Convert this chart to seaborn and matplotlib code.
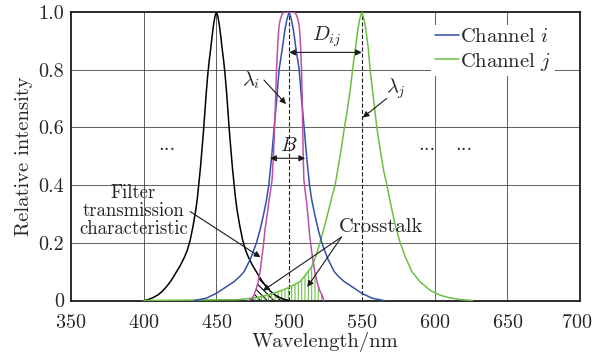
import numpy as np
import matplotlib
matplotlib.use("Agg")
import matplotlib.pyplot as plt
import matplotlib.transforms as mtransforms
import seaborn as sns

# ---------------- data ----------------
black_wl = [400, 403, 406, 410, 413, 416, 419, 422, 425, 428, 430, 432, 434, 435, 436, 437, 438,
            439, 440, 441, 442, 443, 444, 445, 446, 447, 448, 449, 450,
            451, 452, 453, 454, 455, 456, 457, 458, 459, 460, 461, 462, 463, 464, 465, 466,
            468, 470, 472, 475, 478, 481, 484, 487, 490, 494, 497, 500]
black_val = [0, 0.003, 0.009, 0.02, 0.033, 0.05, 0.07, 0.095, 0.12, 0.15, 0.175, 0.21, 0.26, 0.29,
             0.32, 0.36, 0.41, 0.46, 0.52, 0.58, 0.65, 0.72, 0.78, 0.83, 0.87, 0.915, 0.955, 0.985, 1.0,
             0.985, 0.955, 0.915, 0.87, 0.83, 0.78, 0.72, 0.65, 0.58, 0.52, 0.46, 0.41, 0.36, 0.32,
             0.29, 0.26, 0.21, 0.175, 0.15, 0.12, 0.095, 0.07, 0.05, 0.033, 0.02, 0.009, 0.003, 0]

blue_wl = [435, 443, 450, 456, 462, 466, 469, 473, 475, 477.5, 480, 482.5, 484.5, 486, 488, 489.7,
           491.5, 493.1, 494, 495.5, 497, 498.5, 500,
           501.5, 503, 504.5, 506, 506.9, 508.5, 510.3, 512, 514, 515.5, 517.5, 520, 522.5, 525,
           527, 531, 534, 538, 544, 550, 557, 565]
blue_val = [0, 0.008, 0.025, 0.045, 0.065, 0.083, 0.1, 0.14, 0.165, 0.2, 0.245, 0.3, 0.35, 0.4,
            0.5, 0.6, 0.7, 0.8, 0.83, 0.88, 0.935, 0.975, 1.0,
            0.975, 0.935, 0.88, 0.83, 0.8, 0.7, 0.6, 0.5, 0.4, 0.35, 0.3, 0.245, 0.2, 0.165,
            0.14, 0.1, 0.083, 0.065, 0.045, 0.025, 0.008, 0]

filter_wl = [472, 474, 475.5, 477, 478.5, 480, 481, 482.3, 483.5, 485, 486, 487.2, 488.3, 489.2,
             490, 490.7, 491.3, 492.2, 493, 494, 495, 496, 497, 503, 504, 505, 506, 507, 507.8,
             508.5, 509, 509.3, 509.7, 510.1, 511, 512, 513, 514, 515, 516, 517, 518, 519, 520,
             521, 522.5, 524]
filter_val = [0, 0.006, 0.015, 0.035, 0.06, 0.1, 0.14, 0.19, 0.25, 0.3, 0.34, 0.38, 0.42, 0.5,
              0.6, 0.7, 0.8, 0.89, 0.95, 0.975, 0.99, 0.997, 1.0, 1.0, 0.997, 0.99, 0.975, 0.95, 0.89,
              0.8, 0.7, 0.6, 0.5, 0.42, 0.38, 0.34, 0.29, 0.23, 0.19, 0.15, 0.12, 0.09, 0.07, 0.05,
              0.035, 0.02, 0]

green_wl = [400, 465, 478, 489, 495, 500, 507.5, 511.5, 515.5, 518.5, 521.2, 525, 527.5, 529.5,
            531.6, 534, 536, 538, 540, 542, 543.6, 545.5, 547, 548.5, 550,
            551.5, 553, 554.5, 555.7, 558, 560.3, 563, 565, 567.2, 570, 573, 576.4, 580, 584.4,
            590, 597, 604, 610, 618, 626]
green_val = [0, 0.003, 0.01, 0.025, 0.035, 0.046, 0.065, 0.09, 0.117, 0.155, 0.2, 0.27, 0.32, 0.36,
             0.4, 0.47, 0.53, 0.6, 0.66, 0.73, 0.8, 0.87, 0.93, 0.975, 1.0,
             0.975, 0.93, 0.87, 0.8, 0.7, 0.6, 0.51, 0.45, 0.4, 0.33, 0.26, 0.2, 0.15, 0.1,
             0.065, 0.035, 0.018, 0.01, 0.003, 0]

peak_i = 500
peak_j = 550

x_ticks = [350, 400, 450, 500, 550, 600, 650, 700]
y_ticks = [0, 0.2, 0.4, 0.6, 0.8, 1.0]
y_tick_labels = ["0", "0.2", "0.4", "0.6", "0.8", "1.0"]
legend_labels = ["Channel $i$", "Channel $j$"]

# ---------------- style ----------------
FS = 14.8
sns.set_theme(style="white")
plt.rcParams.update({
    "font.family": ["cmr10"],
    "mathtext.fontset": "cm",
    "axes.formatter.use_mathtext": True,
    "font.size": FS,
    "hatch.linewidth": 0.8,
    "lines.scale_dashes": False,
    "axes.unicode_minus": False,
})

C_BLACK = "#000000"
C_BLUE = "#3350a8"
C_FILTER = "#bd4fab"
C_GREEN = "#6cbf45"

fig = plt.figure(figsize=(5.94, 3.56), dpi=100)
ax = fig.add_axes([71 / 594, 55.5 / 356, 509 / 594, 288.5 / 356])

sns.lineplot(x=black_wl, y=black_val, color=C_BLACK, lw=1.1, ax=ax, zorder=3)
sns.lineplot(x=green_wl, y=green_val, color=C_GREEN, lw=1.1, ax=ax, zorder=3)
line_j = ax.lines[-1]
sns.lineplot(x=blue_wl, y=blue_val, color=C_BLUE, lw=1.1, ax=ax, zorder=3)
line_i = ax.lines[-1]
sns.lineplot(x=filter_wl, y=filter_val, color=C_FILTER, lw=1.1, ax=ax, zorder=3)

# crosstalk regions (overlap of neighbouring channels with filter i)
gx = np.linspace(min(filter_wl), max(filter_wl), 600)
f_i = np.interp(gx, filter_wl, filter_val)
blk = np.interp(gx, black_wl, black_val, left=0, right=0)
grn = np.interp(gx, green_wl, green_val, left=0, right=0)
ax.fill_between(gx, 0, np.minimum(blk, f_i), facecolor="none", edgecolor=C_BLACK,
                hatch="\\\\\\\\\\", linewidth=0, zorder=2)
ax.fill_between(gx, 0, np.minimum(grn, f_i), facecolor="none", edgecolor=C_GREEN,
                hatch="|||||", linewidth=0, zorder=2)

# peak markers
for pk in (peak_i, peak_j):
    ax.axvline(pk, color="k", lw=0.8, ls=(0, (3.0, 1.5)), zorder=2.5)

ax.set_xlim(350, 700)
ax.set_ylim(0, 1)
ax.set_xticks(x_ticks)
ax.set_yticks(y_ticks, labels=y_tick_labels)
ax.tick_params(axis="both", length=0, labelsize=14.5)
ax.tick_params(axis="x", pad=10)
ax.tick_params(axis="y", pad=5)
ax.grid(True, color="0.2", lw=0.55, ls="-")
for tk in ax.xaxis.get_major_ticks():
    if tk.get_loc() in (peak_i, peak_j, 350, 700):
        tk.gridline.set_visible(False)
for tk in ax.yaxis.get_major_ticks():
    if tk.get_loc() in (0, 1.0):
        tk.gridline.set_visible(False)
# keep the last x tick label inside the figure
last_lbl = ax.xaxis.get_major_ticks()[-1].label1
last_lbl.set_transform(last_lbl.get_transform() +
                       mtransforms.ScaledTranslation(-3 / 100, 0, fig.dpi_scale_trans))
for sp in ax.spines.values():
    sp.set_visible(True)
    sp.set_color("k")
    sp.set_linewidth(1.3)

ax.set_xlabel("Wavelength/nm", fontsize=FS, labelpad=0)
ax.set_ylabel("Relative intensity", fontsize=FS, labelpad=4)

leg = ax.legend(handles=[line_i, line_j], labels=legend_labels, loc="upper right",
                bbox_to_anchor=(0.95, 0.955), borderaxespad=0, frameon=True,
                fancybox=False, framealpha=1, edgecolor="none", facecolor="white",
                handlelength=1.2, handletextpad=0.05, labelspacing=0.2, borderpad=0.15,
                fontsize=FS)
leg.set_zorder(5)

arr1 = dict(arrowstyle="-|>", color="k", lw=0.8, mutation_scale=9, shrinkA=0, shrinkB=0)
arr2 = dict(arrowstyle="<|-|>", color="k", lw=0.8, mutation_scale=9, shrinkA=0, shrinkB=0)

# D_ij
ax.annotate("", xy=(peak_j, 0.86), xytext=(peak_i, 0.86), arrowprops=arr2, zorder=4)
ax.text(526, 0.915, "$D_{ij}$", ha="center", va="center", fontsize=FS)
# B
ax.annotate("", xy=(511, 0.493), xytext=(486.9, 0.493), arrowprops=arr2, zorder=4)
ax.text(499.5, 0.535, "$B$", ha="center", va="center", fontsize=FS)
# lambda_i / lambda_j
ax.annotate("", xy=(497.8, 0.681), xytext=(482.7, 0.764), arrowprops=arr1, zorder=4)
ax.text(474, 0.765, r"$\lambda_i$", ha="center", va="center", fontsize=FS)
ax.annotate("", xy=(550.6, 0.634), xytext=(567, 0.70), arrowprops=arr1, zorder=4)
ax.text(573.5, 0.735, r"$\lambda_j$", ha="center", va="center", fontsize=FS)
# dots
for xd in (416, 595, 620):
    ax.text(xd, 0.52, "...", ha="center", va="baseline", fontsize=FS)
# filter transmission label
ax.text(393, 0.31, "Filter\ntransmission\ncharacteristic", ha="center", va="center",
        fontsize=13.5, linespacing=1.0)
ax.annotate("", xy=(480.3, 0.15), xytext=(432, 0.308), arrowprops=arr1, zorder=4)
# crosstalk
ax.text(563, 0.255, "Crosstalk", ha="center", va="center", fontsize=FS)
ax.annotate("", xy=(482, 0.034), xytext=(536, 0.22), arrowprops=arr1, zorder=4)
ax.annotate("", xy=(512.5, 0.047), xytext=(536, 0.22), arrowprops=arr1, zorder=4)

fig.savefig("out.png", dpi=100)
